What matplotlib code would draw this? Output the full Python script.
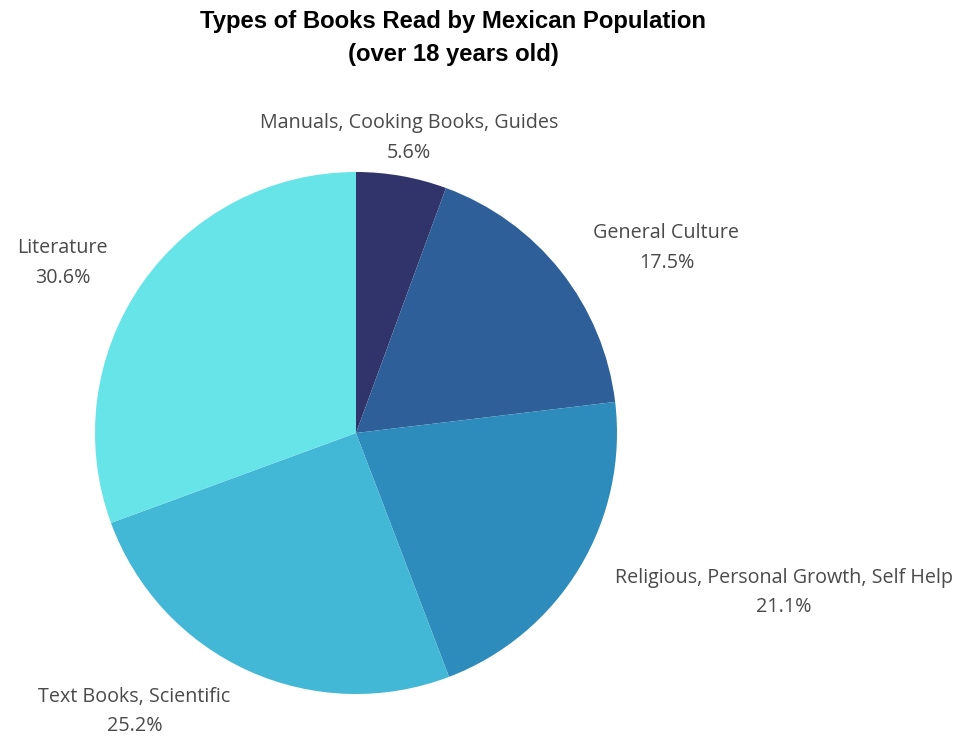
import matplotlib.pyplot as plt
import numpy as np

# Data
labels = [
    "Manuals, Cooking Books, Guides",
    "General Culture",
    "Religious, Personal Growth, Self Help",
    "Text Books, Scientific",
    "Literature",
]
shares = [5.6, 17.5, 21.1, 25.2, 30.6]
colors = ["#31346a", "#2e5f98", "#2d8cbb", "#42b7d6", "#67e4e8"]

W, H = 959, 738
fig = plt.figure(figsize=(W / 100, H / 100), dpi=100)
ax = fig.add_axes([0, 0, 1, 1])

# Pie geometry in pixel units
cx, cy, R = 356, H - 433, 261
wedges, _ = ax.pie(
    shares,
    colors=colors,
    startangle=90,
    counterclock=False,
    center=(cx, cy),
    radius=R,
    frame=True,
)
ax.set_xlim(0, W)
ax.set_ylim(0, H)
ax.axis("off")

# Outside labels
for w, lab, val in zip(wedges, labels, shares):
    mid = np.deg2rad((w.theta1 + w.theta2) / 2)
    x = cx + 1.16 * R * np.cos(mid)
    y = cy + 1.16 * R * np.sin(mid) - 3
    c = np.cos(mid)
    ha = "center" if abs(c) < 0.3 else ("left" if c > 0 else "right")
    ax.text(x, y, f"{lab}\n{val}%", ha=ha, va="center", multialignment="center",
            fontsize=14.2, family="Open Sans", color="#4a4a4a", linespacing=1.65)

fig.text(453.5 / W, 1 - 38 / H, "Types of Books Read by Mexican Population\n(over 18 years old)",
         ha="center", va="center", fontsize=17.2, fontweight="bold",
         family="Liberation Sans", color="black", linespacing=1.6)

fig.savefig("out.png", dpi=100)
